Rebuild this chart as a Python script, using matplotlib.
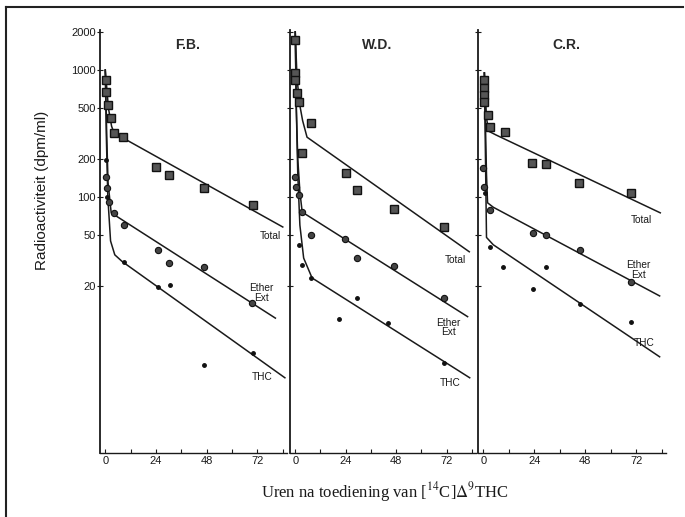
import matplotlib.pyplot as plt
from matplotlib.lines import Line2D

plt.rcParams['mathtext.fontset'] = 'stix'

panels = ['F.B.', 'W.D.', 'C.R.']

# measured points (hours, dpm/ml)
fb_total_t = [0.5, 0.5, 1.4, 2.8, 4.2, 8.5, 24, 30, 46.6, 70]
fb_total_v = [833, 675, 527, 418, 318, 295, 172, 148, 118, 87]
fb_ether_t = [0.5, 1.0, 1.9, 4.2, 9, 25, 30, 46.6, 69.6]
fb_ether_v = [145, 118, 91, 75, 60, 38, 30, 28, 14.6]
fb_thc_t = [0.3, 0.8, 9, 25, 30.6, 46.6, 70]
fb_thc_v = [195, 100, 30.8, 19.6, 20.3, 4.75, 5.9]

wd_total_t = [0, 0, 0, 1, 1.9, 3.3, 7.5, 24, 29.2, 47, 71]
wd_total_v = [1740, 945, 830, 660, 560, 222, 383, 155, 113, 80, 58]
wd_ether_t = [0, 0.5, 1.9, 3.3, 7.5, 23.5, 29.2, 47, 71]
wd_ether_v = [144, 120, 104, 76, 50, 47, 33, 28.6, 16]
wd_thc_t = [1.9, 3.3, 7.5, 20.7, 29.2, 44, 71]
wd_thc_v = [42, 29, 23, 11, 16, 10.2, 4.9]

cr_total_t = [0.5, 0.5, 0.5, 0.5, 2.4, 3.3, 10.4, 23, 29.6, 45, 69.6]
cr_total_v = [833, 720, 640, 560, 443, 355, 325, 185, 182, 129, 108]
cr_ether_t = [0, 0.5, 3.3, 23.5, 29.6, 45.6, 69.6]
cr_ether_v = [170, 120, 79, 52, 50, 38, 21.4]
cr_thc_t = [1.0, 3.3, 9.4, 23.5, 29.6, 45.6, 69.6]
cr_thc_v = [107, 40, 28, 18.9, 28, 14.4, 10.4]

# fitted curves, vertices
fb_total_fit = ([0, 1.5, 3, 4.2, 84], [1000, 500, 360, 319, 58])
fb_ether_fit = ([0, 0.7, 1.3, 2.8, 80.5], [1000, 300, 130, 75, 11.1])
fb_thc_fit = ([0, 0.5, 1.2, 2.5, 4.5, 8, 85], [1000, 300, 100, 45, 35, 31, 3.76])

wd_total_fit = ([0, 0.8, 1.9, 3.5, 5.6, 82.8], [2000, 900, 560, 400, 296, 37])
wd_ether_fit = ([0, 0.5, 1.2, 2.2, 3.3, 82], [2000, 500, 200, 110, 76, 11.4])
wd_thc_fit = ([0, 0.5, 1.2, 2.2, 4, 8, 83], [2000, 500, 150, 60, 33, 23, 3.76])

cr_total_fit = ([0.5, 1.5, 2.5, 6, 83.3], [950, 420, 330, 308, 75])
cr_ether_fit = ([0.5, 1.5, 2, 4.7, 83], [950, 150, 90, 83, 16.6])
cr_thc_fit = ([0.5, 1.5, 4.7, 83], [950, 48, 42, 5.5])

# curve labels (hours, dpm/ml)
fb_labels = [(78, 49), (74, 17.5), (74, 3.8)]
wd_labels = [(76, 31.9), (73, 9.3), (73.5, 3.43)]
cr_labels = [(74.4, 65.7), (73, 26.6), (75.8, 7.1)]
label_texts = ['Total', 'Ether\nExt', 'THC']

yticks = [20, 50, 100, 200, 500, 1000, 2000]

data = [
    (fb_total_t, fb_total_v, fb_ether_t, fb_ether_v, fb_thc_t, fb_thc_v,
     [fb_total_fit, fb_ether_fit, fb_thc_fit], fb_labels),
    (wd_total_t, wd_total_v, wd_ether_t, wd_ether_v, wd_thc_t, wd_thc_v,
     [wd_total_fit, wd_ether_fit, wd_thc_fit], wd_labels),
    (cr_total_t, cr_total_v, cr_ether_t, cr_ether_v, cr_thc_t, cr_thc_v,
     [cr_total_fit, cr_ether_fit, cr_thc_fit], cr_labels),
]

fig = plt.figure(figsize=(6.85, 5.17), dpi=100)
lefts = [100, 290, 478]
widths = [187, 186, 188]
ink = '#1a1a1a'

for i, name in enumerate(panels):
    ax = fig.add_axes([lefts[i] / 685, 64 / 517, widths[i] / 685, 423 / 517])
    tt, tv, et, ev, ht, hv, fits, labels = data[i]
    for ft, fv in fits:
        ax.plot(ft, fv, color=ink, lw=1.1)
    ax.plot(tt, tv, 's', ms=5.8, mfc='#555555', mec='#111111', mew=1.0)
    ax.plot(et, ev, 'o', ms=4.5, mfc='#444444', mec='#111111', mew=0.8)
    ax.plot(ht, hv, 'o', ms=2.5, color='#111111')
    for (lx, ly), txt in zip(labels, label_texts):
        ax.text(lx, ly, txt, fontsize=7.3, ha='center', va='center',
                family='Liberation Sans', color=ink, linespacing=0.9)

    ax.set_yscale('log')
    ax.set_ylim(0.96, 2070)
    ax.set_xlim(-2.5, 86)
    ax.set_xticks(range(0, 85, 12))
    ax.set_xticklabels(['0', '', '24', '', '48', '', '72', ''])
    ax.set_yticks(yticks)
    ax.minorticks_off()
    if i == 0:
        ax.set_yticklabels([str(v) for v in yticks], family='Liberation Sans', fontsize=8)
    else:
        ax.set_yticklabels([])
    ax.tick_params(axis='x', direction='in', length=3, labelsize=8, pad=2, colors=ink)
    ax.tick_params(axis='y', direction='inout', length=4, pad=1, colors=ink)
    for lab in ax.get_xticklabels():
        lab.set_family('Liberation Sans')
    for side in ['top', 'right']:
        ax.spines[side].set_visible(False)
    ax.spines['left'].set_color(ink)
    ax.spines['bottom'].set_color(ink)
    ax.spines['left'].set_linewidth(1.3)
    ax.spines['bottom'].set_linewidth(1.0)
    ax.patch.set_alpha(0)
    ax.text(0.47, 0.965, name, transform=ax.transAxes, ha='center', va='center',
            fontsize=10, fontweight='bold', family='Liberation Sans', color='#2a2a2a')

fig.text(42 / 685, 1 - 190 / 517, 'Radioactiviteit (dpm/ml)', rotation=90,
         ha='center', va='center', fontsize=11, family='Liberation Sans', color=ink)
fig.text(385 / 685, 1 - 492 / 517, r'Uren na toediening van [$^{14}$C]$\Delta^{9}$THC',
         ha='center', va='center', fontsize=12, family='Liberation Serif', color=ink)

# scan frame (left and top edges)
fig.add_artist(Line2D([6 / 685, 6 / 685], [0, 1 - 7 / 517], color='#222222', lw=1.5))
fig.add_artist(Line2D([6 / 685, 683 / 685], [1 - 7 / 517, 1 - 7 / 517], color='#222222', lw=1.5))

fig.savefig('out.png', dpi=100)
